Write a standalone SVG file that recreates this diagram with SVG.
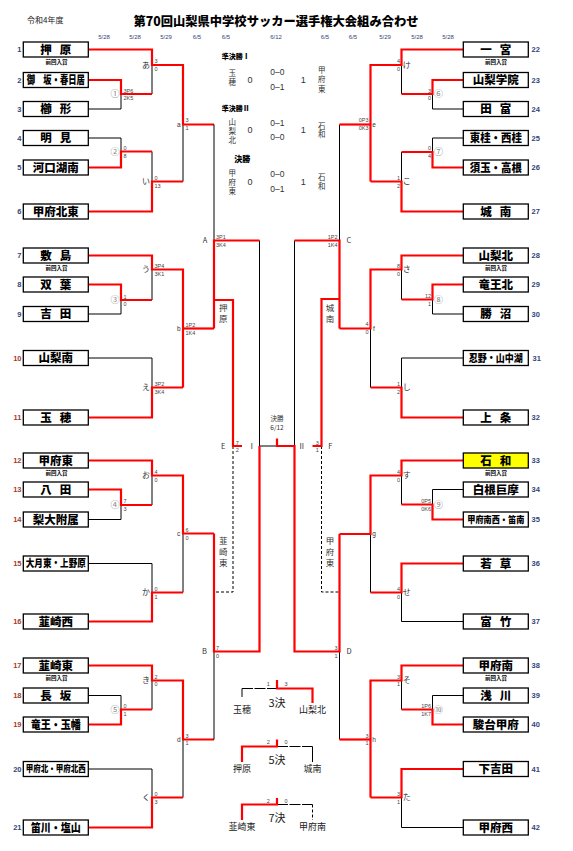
<svg xmlns="http://www.w3.org/2000/svg" width="573" height="851" viewBox="0 0 573 851">
<style>
text{font-family:"Noto Sans CJK JP","Noto Sans",sans-serif}
.bx{fill:#fff;stroke:#000;stroke-width:1.3}
.yl{fill:#ffff00}
.nm{font-weight:900;font-size:11.5px;text-anchor:middle;fill:#000}
.pv{font-weight:700;font-size:5.5px;text-anchor:middle;fill:#000}
.nl{font-family:"Liberation Sans",sans-serif;font-size:7.5px;font-weight:bold;text-anchor:end;fill:#334477}
.nr{font-family:"Liberation Sans",sans-serif;font-size:7.5px;font-weight:bold;text-anchor:start;fill:#334477}
.rd{fill:#a83a2a}
.w{fill:none;stroke:#f00;stroke-width:2.2}
.l{fill:none;stroke:#000;stroke-width:1}
.ds{stroke-dasharray:3 2}
.dl{stroke-dasharray:11 1.5}
.s{font-family:"Liberation Sans",sans-serif;font-size:5.5px;fill:#444}
.se{font-family:"Liberation Sans",sans-serif;font-size:5.5px;fill:#444;text-anchor:end}
.sm{font-family:"Liberation Sans",sans-serif;font-size:5.5px;fill:#444;text-anchor:middle}
.rl{font-size:8px;fill:#333;text-anchor:middle}
.cn{font-size:9px;fill:#888;text-anchor:middle}
.jl{font-family:"Liberation Sans",sans-serif;font-size:6.5px;fill:#333;text-anchor:middle}
.vt{font-size:8.5px;fill:#333;writing-mode:vertical-rl;letter-spacing:2.5px}
.vc{font-size:7.5px;fill:#333;writing-mode:vertical-rl}
.ct{font-size:7.5px;fill:#333;text-anchor:middle}
.cb{font-size:7px;font-weight:900;fill:#000}
.cd{font-family:"Liberation Sans",sans-serif;font-size:9px;fill:#333;text-anchor:middle}
.dt{font-family:"Liberation Sans",sans-serif;font-size:6px;fill:#334477;text-anchor:middle}
.pl{font-size:11px;fill:#222;text-anchor:middle}
.pt{font-size:9px;fill:#222;text-anchor:middle}
</style>

<g id="header">
<text x="27" y="22.5" style="font-size:8px;fill:#222">令和4年度</text>
<text x="276" y="25.5" style="font-size:12.5px;font-weight:900;text-anchor:middle" textLength="285" lengthAdjust="spacingAndGlyphs">第70回山梨県中学校サッカー選手権大会組み合わせ</text>
<text class="dt" x="104" y="38.5">5/28</text>
<text class="dt" x="135" y="38.5">5/28</text>
<text class="dt" x="166" y="38.5">5/29</text>
<text class="dt" x="197" y="38.5">6/5</text>
<text class="dt" x="226" y="38.5">6/5</text>
<text class="dt" x="276" y="38.5">6/12</text>
<text class="dt" x="325" y="38.5">6/5</text>
<text class="dt" x="353" y="38.5">6/5</text>
<text class="dt" x="385" y="38.5">5/29</text>
<text class="dt" x="417" y="38.5">5/28</text>
<text class="dt" x="448" y="38.5">5/28</text>
</g>

<g id="connectors">
<path class="l" d="M88.3,109H121V94"/>
<path class="l" d="M152,65V94"/>
<path class="l" d="M88.3,138H121V151.5"/>
<path class="l" d="M152,151.5V181.5"/>
<path class="l" d="M183,124.5V181.5"/>
<path class="w" d="M88.3,49.5H152V65H183V124.5H214"/>
<path class="w" d="M88.3,80H121V94H152"/>
<path class="w" d="M88.3,167.5H121V151.5H152"/>
<path class="w" d="M88.3,211.5H152V181.5H183"/>

<path class="l" d="M88.3,314H121V300"/>
<path class="l" d="M152,269.5V300"/>
<path class="l" d="M88.3,358H152V387.5"/>
<path class="w" d="M88.3,255.5H152V269.5H183V387.5"/>
<path class="w" d="M183,328.5H214"/>
<path class="w" d="M88.3,284.5H121V300H152"/>
<path class="w" d="M88.3,417.5H152V387.5H183"/>

<path class="l" d="M88.3,519.5H121V505"/>
<path class="l" d="M152,475.5V505"/>
<path class="l" d="M183,533.5V592.5"/>
<path class="l" d="M88.3,563.5H152V592.5"/>
<path class="w" d="M88.3,460.5H152V475.5H183V533.5H214"/>
<path class="w" d="M88.3,489.5H121V505H152"/>
<path class="w" d="M88.3,621.5H152V592.5H183"/>

<path class="l" d="M88.3,695.5H121V709.5"/>
<path class="l" d="M152,680.5V709.5"/>
<path class="l" d="M183,739.5V797.5"/>
<path class="l" d="M88.3,769H152V797.5"/>
<path class="w" d="M88.3,665.5H152V680.5H183V739.5H214"/>
<path class="w" d="M88.3,724.5H121V709.5H152"/>
<path class="w" d="M88.3,827.5H152V797.5H183"/>

<path class="l" d="M214,124.5V240.5"/>
<path class="l" d="M259.5,240.5V446H277"/>
<path class="l" d="M214,651.5V739.5"/>
<path class="l ds" d="M233,446V592H214"/>
<path class="l" d="M339.5,124.5V240.5"/>
<path class="l" d="M294.5,240.5V446"/>
<path class="l" d="M339.5,651.5V739.5"/>
<path class="l ds" d="M321.5,446V592H339.5"/>
<path class="w" d="M214,328.5V240.5H259.5"/>
<path class="w" d="M214,300H233V446H242"/>
<path class="w" d="M214,533.5V651.5H259.5V446"/>
<path class="w" d="M277,438.5V446H294.5V651.5H339.5V534"/>
<path class="w" d="M339.5,328.5V240.5H294.5"/>
<path class="w" d="M339.5,299H321.5V446H312.5"/>

<path class="l" d="M463.3,109H432.5V94"/>
<path class="l" d="M401.5,65V94"/>
<path class="l" d="M463.3,138H432.5V152"/>
<path class="l" d="M401.5,152V181.5"/>
<path class="w" d="M463.3,49.5H401.5V65H370.5V181.5"/>
<path class="w" d="M370.5,124.5H339.5"/>
<path class="w" d="M463.3,80H432.5V94H401.5"/>
<path class="w" d="M463.3,167.5H432.5V152H401.5"/>
<path class="w" d="M463.3,211.5H401.5V181.5H370.5"/>

<path class="l" d="M463.3,314H432.5V299.5"/>
<path class="l" d="M401.5,269.5V299.5"/>
<path class="l" d="M370.5,328.5V387.5"/>
<path class="l" d="M463.3,358H401.5V387.5"/>
<path class="w" d="M463.3,255.5H401.5V269.5H370.5V328.5H339.5"/>
<path class="w" d="M463.3,284.5H432.5V299.5H401.5"/>
<path class="w" d="M463.3,417.5H401.5V387.5H370.5"/>

<path class="l" d="M463.3,489.5H432.5V504.5"/>
<path class="l" d="M401.5,475.5V504.5"/>
<path class="l" d="M370.5,534V592.5"/>
<path class="l" d="M463.3,621.5H401.5V592.5"/>
<path class="w" d="M463.3,460.5H401.5V475.5H370.5V534H339.5"/>
<path class="w" d="M463.3,519.5H432.5V504.5H401.5"/>
<path class="w" d="M463.3,563.5H401.5V592.5H370.5"/>

<path class="l" d="M463.3,695.5H432.5V709.5"/>
<path class="l" d="M401.5,680.5V709.5"/>
<path class="l" d="M463.3,827.5H401.5V797.5"/>
<path class="w" d="M463.3,665.5H401.5V680.5H370.5V797.5"/>
<path class="w" d="M370.5,739.5H339.5"/>
<path class="w" d="M463.3,724.5H432.5V709.5H401.5"/>
<path class="w" d="M463.3,769H401.5V797.5H370.5"/>

<path class="l" d="M242,697V688.5"/>
<path class="l dl" d="M242,688.5H277"/>
<path class="w" d="M277,680V688.5H312.5V703"/>
<path class="l dl" d="M277,746.5H312.5"/>
<path class="l" d="M312.5,746.5V762"/>
<path class="w" d="M242,762V746.5H277V739.5"/>
<path class="l dl" d="M277,804.5H312.5"/>
<path class="l ds" d="M312.5,804.5V820"/>
<path class="w" d="M242,820V804.5H277V798"/>
</g>

<g id="labels">
<text class="cn" x="115" y="97.2">①</text>
<text class="cn" x="115" y="154.7">②</text>
<text class="cn" x="115" y="303.2">③</text>
<text class="cn" x="115" y="508.2">④</text>
<text class="cn" x="115" y="712.7">⑤</text>
<text class="rl" x="146" y="67.9">あ</text>
<text class="rl" x="146" y="184.4">い</text>
<text class="rl" x="146" y="272.4">う</text>
<text class="rl" x="146" y="390.4">え</text>
<text class="rl" x="146" y="478.4">お</text>
<text class="rl" x="146" y="595.4">か</text>
<text class="rl" x="146" y="683.4">き</text>
<text class="rl" x="146" y="800.4">く</text>
<text class="jl" x="178.7" y="126.5">a</text>
<text class="jl" x="178.7" y="330.5">b</text>
<text class="jl" x="178.7" y="535.5">c</text>
<text class="jl" x="178.7" y="741.5">d</text>
<text class="cn" x="438.5" y="97.2">⑥</text>
<text class="cn" x="438.5" y="155.2">⑦</text>
<text class="cn" x="438.5" y="302.7">⑧</text>
<text class="cn" x="438.5" y="507.7">⑨</text>
<text class="cn" x="438.5" y="712.7">⑩</text>
<text class="rl" x="406.7" y="67.9">け</text>
<text class="rl" x="406.7" y="184.4">こ</text>
<text class="rl" x="406.7" y="272.4">さ</text>
<text class="rl" x="406.7" y="390.4">し</text>
<text class="rl" x="406.7" y="478.4">す</text>
<text class="rl" x="406.7" y="595.4">せ</text>
<text class="rl" x="406.7" y="683.4">そ</text>
<text class="rl" x="406.7" y="800.4">た</text>
<text class="jl" x="374" y="126.5">e</text>
<text class="jl" x="374" y="330.5">f</text>
<text class="jl" x="374" y="536">g</text>
<text class="jl" x="374" y="741.5">h</text>
<text class="ct" x="205" y="243.2">A</text>
<text class="ct" x="204.5" y="654.2">B</text>
<text class="ct" x="349" y="243.2">C</text>
<text class="ct" x="349" y="654.2">D</text>
<text class="ct" x="223.3" y="448.7">E</text>
<text class="ct" x="330.3" y="448.7">F</text>
<text class="ct" x="251.7" y="449">Ⅰ</text>
<text class="ct" x="301.7" y="449">Ⅱ</text>
<text class="ct" x="277" y="421" style="font-size:6.5px">決勝</text>
<text class="ct" x="277" y="429.5" style="font-size:6.5px">6/12</text>
<text class="vt" x="223.3" y="303.5">押原</text>
<text class="vt" x="330" y="303.5">城南</text>
<text class="vt" x="223.3" y="536.5">韮崎東</text>
<text class="vt" x="330" y="536.5">甲府東</text>
</g>

<g id="scores">
<text class="s" x="123.5" y="92.5">3P6</text><text class="s" x="123.5" y="100">2K5</text>
<text class="s" x="154.5" y="62.5">3</text><text class="s" x="154.5" y="70.5">0</text>
<text class="s" x="185.5" y="122">3</text><text class="s" x="185.5" y="130">1</text>
<text class="s" x="123.5" y="150">0</text><text class="s" x="123.5" y="157.5">8</text>
<text class="s" x="154.5" y="180">0</text><text class="s" x="154.5" y="187.5">13</text>
<text class="s" x="154.5" y="268">3P4</text><text class="s" x="154.5" y="275.5">3K1</text>
<text class="s" x="123.5" y="298.5">1</text><text class="s" x="123.5" y="306">0</text>
<text class="s" x="185.5" y="326.5">1P2</text><text class="s" x="185.5" y="334.5">1K4</text>
<text class="s" x="154.5" y="386">3P2</text><text class="s" x="154.5" y="393.5">3K4</text>
<text class="s" x="154.5" y="473.5">4</text><text class="s" x="154.5" y="481.5">0</text>
<text class="s" x="123.5" y="503">7</text><text class="s" x="123.5" y="511">3</text>
<text class="s" x="185.5" y="531.5">6</text><text class="s" x="185.5" y="539.5">0</text>
<text class="s" x="154.5" y="591">0</text><text class="s" x="154.5" y="599">1</text>
<text class="s" x="154.5" y="678.5">2</text><text class="s" x="154.5" y="686">0</text>
<text class="s" x="123.5" y="707.5">0</text><text class="s" x="123.5" y="715.5">1</text>
<text class="s" x="185.5" y="737.5">3</text><text class="s" x="185.5" y="745">1</text>
<text class="s" x="154.5" y="796">0</text><text class="s" x="154.5" y="804">3</text>
<text class="s" x="216" y="238.5">3P1</text><text class="s" x="216" y="246.5">3K4</text>
<text class="s" x="216" y="649.5">7</text><text class="s" x="216" y="657.5">0</text>
<text class="sm" x="237.3" y="445">7</text><text class="sm" x="237.3" y="452">2</text>
<text class="se" x="400" y="62.5">4</text><text class="se" x="400" y="70.5">0</text>
<text class="se" x="431" y="92.5">3</text><text class="se" x="431" y="100">0</text>
<text class="se" x="368.5" y="121.5">0P3</text><text class="se" x="368.5" y="129.5">0K3</text>
<text class="se" x="431" y="150">0</text><text class="se" x="431" y="158">4</text>
<text class="se" x="400" y="180">1</text><text class="se" x="400" y="188">2</text>
<text class="se" x="400" y="268">8</text><text class="se" x="400" y="275.5">0</text>
<text class="se" x="431" y="298">12</text><text class="se" x="431" y="305.5">1</text>
<text class="se" x="368.5" y="326">4</text><text class="se" x="368.5" y="334">0</text>
<text class="se" x="400" y="386">1</text><text class="se" x="400" y="393.5">2</text>
<text class="se" x="400" y="473.5">4</text><text class="se" x="400" y="481.5">0</text>
<text class="se" x="431" y="502.5">0P5</text><text class="se" x="431" y="510.5">0K6</text>
<text class="se" x="400" y="591">4</text><text class="se" x="400" y="599">0</text>
<text class="se" x="400" y="678.5">3</text><text class="se" x="400" y="686">1</text>
<text class="se" x="431" y="707.5">1P6</text><text class="se" x="431" y="715.5">1K7</text>
<text class="se" x="368.5" y="737.5">3</text><text class="se" x="368.5" y="745">1</text>
<text class="se" x="400" y="796">3</text><text class="se" x="400" y="804">1</text>
<text class="se" x="337.5" y="238.5">1P2</text><text class="se" x="337.5" y="246.5">1K4</text>
<text class="se" x="337.5" y="649.5">3</text><text class="se" x="337.5" y="657.5">1</text>
<text class="sm" x="317.3" y="445">3</text><text class="sm" x="317.3" y="452">1</text>
<text class="sm" x="268.3" y="686">1</text><text class="sm" x="286" y="686">3</text>
<text class="sm" x="268.3" y="744">2</text><text class="sm" x="286" y="744">0</text>
<text class="sm" x="268.3" y="802.5">2</text><text class="sm" x="286" y="802.5">0</text>
</g>

<g id="results">
<text class="cb" x="221.7" y="59.2">準決勝Ⅰ</text>
<text class="vc" x="232.3" y="69.5" style="letter-spacing:1.9px">玉穂</text>
<text class="cd" x="250" y="83.2">0</text>
<text class="cd" x="277.3" y="74.7" style="font-size:8.5px">0–0</text>
<text class="cd" x="277.3" y="89.7" style="font-size:8.5px">0–1</text>
<text class="cd" x="303.3" y="83.2">1</text>
<text class="vc" x="321.7" y="66.3" style="letter-spacing:1.85px">甲府東</text>
<text class="cb" x="221.7" y="110.8">準決勝Ⅱ</text>
<text class="vc" x="232.3" y="118" style="letter-spacing:1.65px">山梨北</text>
<text class="cd" x="250" y="133.2">0</text>
<text class="cd" x="277.3" y="125.7" style="font-size:8.5px">0–1</text>
<text class="cd" x="277.3" y="140.3" style="font-size:8.5px">0–0</text>
<text class="cd" x="303.3" y="133.2">1</text>
<text class="vc" x="321.7" y="122.2" style="letter-spacing:0.8px">石和</text>
<text class="cb" x="242.3" y="161.8" style="text-anchor:middle;font-size:8px">決勝</text>
<text class="vc" x="232.3" y="169.5" style="letter-spacing:1.7px">甲府東</text>
<text class="cd" x="250" y="184.9">0</text>
<text class="cd" x="277.3" y="177.3" style="font-size:8.5px">0–0</text>
<text class="cd" x="277.3" y="192.3" style="font-size:8.5px">0–1</text>
<text class="cd" x="303.3" y="184.9">1</text>
<text class="vc" x="321.7" y="173" style="letter-spacing:1.8px">石和</text>
<text class="pl" x="277" y="706.5">3決</text>
<text class="pt" x="242" y="713.2">玉穂</text>
<text class="pt" x="312.5" y="713.2">山梨北</text>
<text class="pl" x="277" y="764">5決</text>
<text class="pt" x="242" y="771.5">押原</text>
<text class="pt" x="312.5" y="771.5">城南</text>
<text class="pl" x="277" y="822">7決</text>
<text class="pt" x="242" y="829.7">韮崎東</text>
<text class="pt" x="312.5" y="829.7">甲府南</text>
</g>

<g id="n1"><text class="nl" x="21.5" y="52.2">1</text><rect class="bx" x="23.3" y="42" width="65" height="15"/><text class="nm" x="55.8" y="53.7" textLength="31" lengthAdjust="spacing">押　原</text><text class="pv" x="56.5" y="63.5">前回入賞</text></g>
<g id="n2"><text class="nl" x="21.5" y="82.7">2</text><rect class="bx" x="23.3" y="72.5" width="65" height="15"/><text class="nm" x="55.8" y="84.2" textLength="58" lengthAdjust="spacingAndGlyphs">御　坂・春日居</text></g>
<g id="n3"><text class="nl" x="21.5" y="111.7">3</text><rect class="bx" x="23.3" y="101.5" width="65" height="15"/><text class="nm" x="55.8" y="113.2" textLength="31" lengthAdjust="spacing">櫛　形</text></g>
<g id="n4"><text class="nl" x="21.5" y="140.7">4</text><rect class="bx" x="23.3" y="130.5" width="65" height="15"/><text class="nm" x="55.8" y="142.2" textLength="31" lengthAdjust="spacing">明　見</text></g>
<g id="n5"><text class="nl" x="21.5" y="170.2">5</text><rect class="bx" x="23.3" y="160" width="65" height="15"/><text class="nm" x="55.8" y="171.7">河口湖南</text></g>
<g id="n6"><text class="nl" x="21.5" y="214.2">6</text><rect class="bx" x="23.3" y="204" width="65" height="15"/><text class="nm" x="55.8" y="215.7">甲府北東</text></g>
<g id="n7"><text class="nl" x="21.5" y="258.2">7</text><rect class="bx" x="23.3" y="248" width="65" height="15"/><text class="nm" x="55.8" y="259.7" textLength="31" lengthAdjust="spacing">敷　島</text><text class="pv" x="56.5" y="269.5">前回入賞</text></g>
<g id="n8"><text class="nl" x="21.5" y="287.2">8</text><rect class="bx" x="23.3" y="277" width="65" height="15"/><text class="nm" x="55.8" y="288.7" textLength="31" lengthAdjust="spacing">双　葉</text></g>
<g id="n9"><text class="nl" x="21.5" y="316.7">9</text><rect class="bx" x="23.3" y="306.5" width="65" height="15"/><text class="nm" x="55.8" y="318.2" textLength="31" lengthAdjust="spacing">吉　田</text></g>
<g id="n10"><text class="nl rd" x="21.5" y="360.7">10</text><rect class="bx" x="23.3" y="350.5" width="65" height="15"/><text class="nm" x="55.8" y="362.2">山梨南</text></g>
<g id="n11"><text class="nl rd" x="21.5" y="420.2">11</text><rect class="bx" x="23.3" y="410" width="65" height="15"/><text class="nm" x="55.8" y="421.7" textLength="31" lengthAdjust="spacing">玉　穂</text></g>
<g id="n12"><text class="nl rd" x="21.5" y="463.2">12</text><rect class="bx" x="23.3" y="453" width="65" height="15"/><text class="nm" x="55.8" y="464.7">甲府東</text><text class="pv" x="56.5" y="474.5">前回入賞</text></g>
<g id="n13"><text class="nl rd" x="21.5" y="492.2">13</text><rect class="bx" x="23.3" y="482" width="65" height="15"/><text class="nm" x="55.8" y="493.7" textLength="31" lengthAdjust="spacing">八　田</text></g>
<g id="n14"><text class="nl rd" x="21.5" y="522.2">14</text><rect class="bx" x="23.3" y="512" width="65" height="15"/><text class="nm" x="55.8" y="523.7">梨大附属</text></g>
<g id="n15"><text class="nl rd" x="21.5" y="566.2">15</text><rect class="bx" x="23.3" y="556" width="65" height="15"/><text class="nm" x="55.8" y="567.4" style="font-size:10.5px" textLength="60" lengthAdjust="spacingAndGlyphs">大月東・上野原</text></g>
<g id="n16"><text class="nl rd" x="21.5" y="624.2">16</text><rect class="bx" x="23.3" y="614" width="65" height="15"/><text class="nm" x="55.8" y="625.7">韮崎西</text></g>
<g id="n17"><text class="nl rd" x="21.5" y="668.2">17</text><rect class="bx" x="23.3" y="658" width="65" height="15"/><text class="nm" x="55.8" y="669.7">韮崎東</text><text class="pv" x="56.5" y="679.5">前回入賞</text></g>
<g id="n18"><text class="nl rd" x="21.5" y="698.2">18</text><rect class="bx" x="23.3" y="688" width="65" height="15"/><text class="nm" x="55.8" y="699.7" textLength="31" lengthAdjust="spacing">長　坂</text></g>
<g id="n19"><text class="nl rd" x="21.5" y="727.2">19</text><rect class="bx" x="23.3" y="717" width="65" height="15"/><text class="nm" x="55.8" y="728.7" textLength="50" lengthAdjust="spacingAndGlyphs">竜王・玉幡</text></g>
<g id="n20"><text class="nl" x="21.5" y="771.7">20</text><rect class="bx" x="23.3" y="761.5" width="65" height="15"/><text class="nm" x="55.8" y="772.4" style="font-size:9px" textLength="60" lengthAdjust="spacingAndGlyphs">甲府北・甲府北西</text></g>
<g id="n21"><text class="nl" x="21.5" y="830.2">21</text><rect class="bx" x="23.3" y="820" width="65" height="15"/><text class="nm" x="55.8" y="831.7" textLength="50" lengthAdjust="spacingAndGlyphs">笛川・塩山</text></g>

<g id="n22"><rect class="bx" x="463.3" y="42" width="65" height="15"/><text class="nm" x="495.8" y="53.7" textLength="31" lengthAdjust="spacing">一　宮</text><text class="nr" x="531.5" y="52.2">22</text><text class="pv" x="496" y="63.5">前回入賞</text></g>
<g id="n23"><rect class="bx" x="463.3" y="72.5" width="65" height="15"/><text class="nm" x="495.8" y="84.2">山梨学院</text><text class="nr" x="531.5" y="82.7">23</text></g>
<g id="n24"><rect class="bx" x="463.3" y="101.5" width="65" height="15"/><text class="nm" x="495.8" y="113.2" textLength="31" lengthAdjust="spacing">田　富</text><text class="nr" x="531.5" y="111.7">24</text></g>
<g id="n25"><rect class="bx" x="463.3" y="130.5" width="65" height="15"/><text class="nm" x="495.8" y="142.2" textLength="52" lengthAdjust="spacingAndGlyphs">東桂・西桂</text><text class="nr" x="531.5" y="140.7">25</text></g>
<g id="n26"><rect class="bx" x="463.3" y="160" width="65" height="15"/><text class="nm" x="495.8" y="171.7" textLength="52" lengthAdjust="spacingAndGlyphs">須玉・高根</text><text class="nr" x="531.5" y="170.2">26</text></g>
<g id="n27"><rect class="bx" x="463.3" y="204" width="65" height="15"/><text class="nm" x="495.8" y="215.7" textLength="31" lengthAdjust="spacing">城　南</text><text class="nr" x="531.5" y="214.2">27</text></g>
<g id="n28"><rect class="bx" x="463.3" y="248" width="65" height="15"/><text class="nm" x="495.8" y="259.7">山梨北</text><text class="nr" x="531.5" y="258.2">28</text><text class="pv" x="496" y="269.5">前回入賞</text></g>
<g id="n29"><rect class="bx" x="463.3" y="277" width="65" height="15"/><text class="nm" x="495.8" y="288.7">竜王北</text><text class="nr" x="531.5" y="287.2">29</text></g>
<g id="n30"><rect class="bx" x="463.3" y="306.5" width="65" height="15"/><text class="nm" x="495.8" y="318.2" textLength="31" lengthAdjust="spacing">勝　沼</text><text class="nr" x="531.5" y="316.7">30</text></g>
<g id="n31"><rect class="bx" x="463.3" y="350.5" width="65" height="15"/><text class="nm" x="495.8" y="362" style="font-size:10.5px" textLength="54" lengthAdjust="spacingAndGlyphs">忍野・山中湖</text><text class="nr" x="532.5" y="360.7">31</text></g>
<g id="n32"><rect class="bx" x="463.3" y="410" width="65" height="15"/><text class="nm" x="495.8" y="421.7" textLength="31" lengthAdjust="spacing">上　条</text><text class="nr" x="531.5" y="420.2">32</text></g>
<g id="n33"><rect class="bx yl" x="463.3" y="453" width="65" height="15"/><text class="nm" x="495.8" y="464.7" textLength="31" lengthAdjust="spacing">石　和</text><text class="nr" x="531.5" y="463.2">33</text><text class="pv" x="496" y="474.5">前回入賞</text></g>
<g id="n34"><rect class="bx" x="463.3" y="482" width="65" height="15"/><text class="nm" x="495.8" y="493.7">白根巨摩</text><text class="nr" x="531.5" y="492.2">34</text></g>
<g id="n35"><rect class="bx" x="463.3" y="512" width="65" height="15"/><text class="nm" x="495.8" y="522.8" style="font-size:9px" textLength="57" lengthAdjust="spacingAndGlyphs">甲府南西・笛南</text><text class="nr" x="531.5" y="522.2">35</text></g>
<g id="n36"><rect class="bx" x="463.3" y="556" width="65" height="15"/><text class="nm" x="495.8" y="567.7" textLength="31" lengthAdjust="spacing">若　草</text><text class="nr" x="531.5" y="566.2">36</text></g>
<g id="n37"><rect class="bx" x="463.3" y="614" width="65" height="15"/><text class="nm" x="495.8" y="625.7" textLength="31" lengthAdjust="spacing">富　竹</text><text class="nr" x="531.5" y="624.2">37</text></g>
<g id="n38"><rect class="bx" x="463.3" y="658" width="65" height="15"/><text class="nm" x="495.8" y="669.7">甲府南</text><text class="nr" x="531.5" y="668.2">38</text><text class="pv" x="496" y="679.5">前回入賞</text></g>
<g id="n39"><rect class="bx" x="463.3" y="688" width="65" height="15"/><text class="nm" x="495.8" y="699.7" textLength="31" lengthAdjust="spacing">浅　川</text><text class="nr" x="531.5" y="698.2">39</text></g>
<g id="n40"><rect class="bx" x="463.3" y="717" width="65" height="15"/><text class="nm" x="495.8" y="728.7">駿台甲府</text><text class="nr" x="531.5" y="727.2">40</text></g>
<g id="n41"><rect class="bx" x="463.3" y="761.5" width="65" height="15"/><text class="nm" x="495.8" y="773.2">下吉田</text><text class="nr" x="531.5" y="771.7">41</text></g>
<g id="n42"><rect class="bx" x="463.3" y="820" width="65" height="15"/><text class="nm" x="495.8" y="831.7">甲府西</text><text class="nr" x="531.5" y="830.2">42</text></g>
</svg>
